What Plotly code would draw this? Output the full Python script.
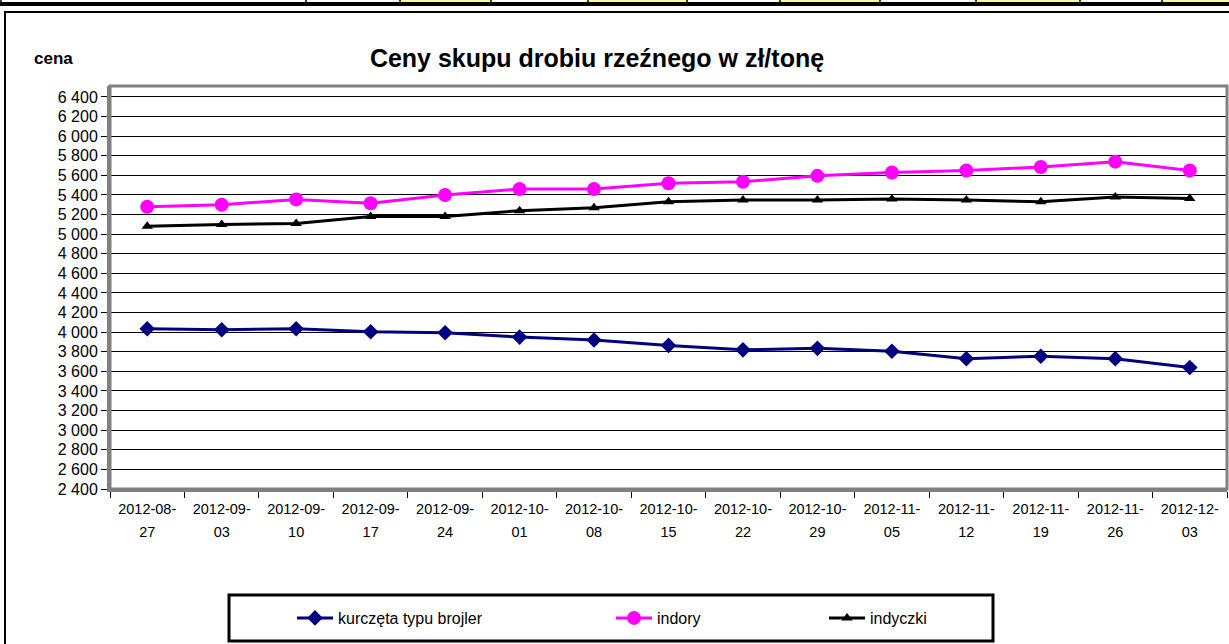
import plotly.graph_objects as go

# ---------------- data ----------------
dates = ["2012-08-27", "2012-09-03", "2012-09-10", "2012-09-17", "2012-09-24",
         "2012-10-01", "2012-10-08", "2012-10-15", "2012-10-22", "2012-10-29",
         "2012-11-05", "2012-11-12", "2012-11-19", "2012-11-26", "2012-12-03"]
kurczeta = [4035, 4025, 4035, 4005, 3995, 3950, 3920, 3865, 3820, 3835,
            3805, 3730, 3755, 3730, 3640]
indory = [5280, 5300, 5355, 5315, 5400, 5460, 5460, 5520, 5535, 5595,
          5630, 5650, 5685, 5740, 5650]
indyczki = [5080, 5100, 5110, 5180, 5180, 5240, 5270, 5330, 5350, 5350,
            5360, 5350, 5330, 5380, 5365]
y_ticks = list(range(2400, 6401, 200))
series_names = ["kurczęta typu brojler", "indory", "indyczki"]
title_text = "Ceny skupu drobiu rzeźnego w zł/tonę"
y_label = "cena"

# ---------------- geometry ----------------
W, H = 1229, 644
L, R, T, B = 110, 2, 86, 155
PW, PH = W - L - R, H - T - B


def xp(px):
    return (px - L) / PW


def yp(py):
    return (H - B - py) / PH


FONT = "Liberation Sans, Arial, sans-serif"
cats = ["<span style='font-size:14.5px'>" + d[:8] + "<br>" + d[8:] + "</span>"
        for d in dates]

fig = go.Figure()
fig.add_trace(go.Scatter(
    x=cats, y=kurczeta, name=series_names[0], mode="lines+markers",
    line=dict(color="#000080", width=3),
    marker=dict(symbol="diamond", size=12, color="#000080"),
    legend="legend"))
fig.add_trace(go.Scatter(
    x=cats, y=indory, name=series_names[1], mode="lines+markers",
    line=dict(color="#FF00FF", width=3),
    marker=dict(symbol="circle", size=14, color="#FF00FF"),
    legend="legend2"))
fig.add_trace(go.Scatter(
    x=cats, y=indyczki, name=series_names[2], mode="lines+markers",
    line=dict(color="#000000", width=3),
    marker=dict(symbol="triangle-up", size=10, color="#000000"),
    legend="legend3"))

shapes = []
# top table strip
for a, b in [(400, 491), (588, 687), (780, 880), (976, 1080), (1162, 1229)]:
    shapes.append(dict(type="rect", xref="paper", yref="paper",
                       x0=xp(a), x1=xp(b), y0=yp(2), y1=yp(0),
                       fillcolor="#FFFF99", line=dict(width=0)))
for sx in [1, 306, 400, 491, 588, 687, 780, 880, 976, 1080, 1162]:
    shapes.append(dict(type="line", xref="paper", yref="paper",
                       x0=xp(sx), x1=xp(sx), y0=yp(2), y1=yp(0),
                       line=dict(color="black", width=1.5)))
shapes.append(dict(type="rect", xref="paper", yref="paper",
                   x0=xp(0), x1=xp(1229), y0=yp(6), y1=yp(2),
                   fillcolor="black", line=dict(width=0)))
# chart border
shapes.append(dict(type="rect", xref="paper", yref="paper",
                   x0=xp(5), x1=xp(1245), y0=yp(665), y1=yp(12),
                   line=dict(color="black", width=2)))
# plot area border
shapes.append(dict(type="rect", xref="paper", yref="paper",
                   x0=0, x1=1, y0=0, y1=1,
                   line=dict(color="#808080", width=3)))
# legend box
shapes.append(dict(type="rect", xref="paper", yref="paper",
                   x0=xp(229), x1=xp(993), y0=yp(641), y1=yp(595),
                   line=dict(color="black", width=3)))

leg_common = dict(orientation="h", xanchor="left", yanchor="middle",
                  bgcolor="rgba(0,0,0,0)", borderwidth=0, itemwidth=36,
                  font=dict(family=FONT, size=16, color="black"))

fig.update_layout(
    width=W, height=H,
    margin=dict(l=L, r=R, t=T, b=B),
    paper_bgcolor="white", plot_bgcolor="white",
    separators=". ",
    showlegend=True,
    title=dict(text="<b>" + title_text + "</b>", xref="container", yref="container",
               x=597 / W, y=1 - 58 / H, xanchor="center", yanchor="middle",
               font=dict(family=FONT, size=25, color="black")),
    xaxis=dict(type="category", range=[-0.5, 14.5], tickson="boundaries",
               ticks="outside", ticklen=6, tickcolor="black", tickwidth=1,
               showgrid=False, showline=True, linecolor="#808080", linewidth=3,
               tickfont=dict(family=FONT, size=18, color="black"),
               fixedrange=True),
    yaxis=dict(range=[2400, 6512], tickvals=y_ticks, tickformat=",d",
               ticks="outside", ticklen=6, tickcolor="black", tickwidth=1,
               showgrid=True, gridcolor="black", gridwidth=1,
               showline=True, linecolor="#808080", linewidth=3, zeroline=False,
               tickfont=dict(family=FONT, size=16, color="black"),
               fixedrange=True),
    legend=dict(x=xp(292), y=yp(618), **leg_common),
    legend2=dict(x=xp(611), y=yp(618), **leg_common),
    legend3=dict(x=xp(824), y=yp(618), **leg_common),
    shapes=shapes,
    annotations=[dict(text="<b>" + y_label + "</b>", xref="paper", yref="paper",
                      x=xp(32), y=yp(58), xanchor="left", yanchor="middle",
                      showarrow=False, font=dict(family=FONT, size=17, color="black"))],
)

fig.write_html("out.html",
               config={"displayModeBar": False},
               post_script="document.body.style.margin='0';"
                           "document.body.style.overflow='hidden';")
